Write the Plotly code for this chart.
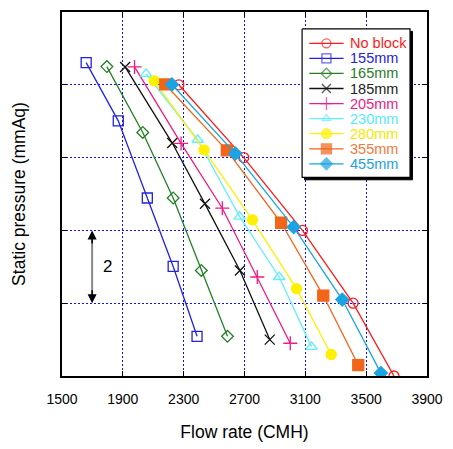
import plotly.graph_objects as go

# Fan curves: static pressure vs flow rate for different blocking distances
series_names = ["No block", "155mm", "165mm", "185mm", "205mm", "230mm", "280mm", "355mm", "455mm"]

flow_noblock = [2268, 2695, 3081, 3414, 3683]
press_noblock = [8.0, 6.0, 4.0, 2.0, 0.0]

flow_155 = [1659, 1870, 2061, 2231, 2388]
press_155 = [8.61, 7.01, 4.89, 3.01, 1.09]

flow_165 = [1795, 2031, 2231, 2416, 2588]
press_165 = [8.50, 6.69, 4.89, 2.90, 1.09]

flow_185 = [1915, 2225, 2440, 2670, 2866]
press_185 = [8.49, 6.40, 4.73, 2.90, 1.00]

flow_205 = [1977, 2283, 2554, 2784, 3001]
press_205 = [8.49, 6.39, 4.61, 2.72, 0.90]

flow_230 = [2053, 2392, 2668, 2928, 3141]
press_230 = [8.30, 6.49, 4.38, 2.72, 0.80]

flow_280 = [2106, 2434, 2752, 3042, 3270]
press_280 = [8.11, 6.21, 4.29, 2.40, 0.59]

flow_355 = [2179, 2584, 2941, 3218, 3448]
press_355 = [8.01, 6.20, 4.21, 2.21, 0.30]

flow_455 = [2223, 2640, 3023, 3343, 3597]
press_455 = [8.01, 6.11, 4.09, 2.10, 0.08]

x_ticks = [1500, 1900, 2300, 2700, 3100, 3500, 3900]

flows = [flow_noblock, flow_155, flow_165, flow_185, flow_205, flow_230, flow_280, flow_355, flow_455]
pressures = [press_noblock, press_155, press_165, press_185, press_205, press_230, press_280, press_355, press_455]

colors = ["#ff1a1a", "#2222e0", "#238023", "#111111", "#f01c82",
          "#62eeff", "#fff000", "#f26418", "#1ba3e3"]
text_colors = ["#ff1a1a", "#2222e0", "#2a7a2a", "#222222", "#f01c82",
               "#55eaff", "#f5ea00", "#f07a3a", "#1ba3e3"]
symbols = ["circle-open", "square-open", "diamond-open", "x-thin-open", "cross-thin-open",
           "triangle-up-open", "circle", "square", "diamond"]
sizes = [10, 10, 9, 10, 10, 10, 10, 11, 10]
legend_sizes = [9, 9, 8, 9, 9, 8, 10, 10, 9]

FONT = "Liberation Sans, Arial, sans-serif"

fig = go.Figure()

for name, fx, py, c, s, sz in zip(series_names, flows, pressures, colors, symbols, sizes):
    fig.add_trace(go.Scatter(
        x=fx, y=py, mode="lines+markers", name=name,
        line=dict(color=c, width=1.3),
        marker=dict(symbol=s, size=sz, color=c, line=dict(color=c, width=1.3)),
        showlegend=False,
    ))

# Legend box (with drop shadow) on an overlay axis measured in plot-area pixels,
# filled so that it hides the grid behind it
L_X0, L_X1, L_Y0, L_Y1 = 306.7, 416.7, 27.3, 179
SH = 2.5


def box(x0, x1, y0, y1):
    return [x0, x1, x1, x0, x0], [y0, y0, y1, y1, y0]


bx, by = box(L_X0 + SH, L_X1 + SH, L_Y0 + SH, L_Y1 + SH)
fig.add_trace(go.Scatter(x=bx, y=by, xaxis="x2", yaxis="y2", mode="lines", fill="toself",
                         fillcolor="black", line=dict(color="black", width=1),
                         showlegend=False, hoverinfo="skip"))
bx, by = box(L_X0, L_X1, L_Y0, L_Y1)
fig.add_trace(go.Scatter(x=bx, y=by, xaxis="x2", yaxis="y2", mode="lines", fill="toself",
                         fillcolor="white", line=dict(color="black", width=1.2),
                         showlegend=False, hoverinfo="skip"))

row0, row_gap = 42.0, 15.4
for i, (name, c, tc, s, sz) in enumerate(zip(series_names, colors, text_colors, symbols, legend_sizes)):
    yy = row0 + i * row_gap
    fig.add_trace(go.Scatter(
        x=[314, 331.5, 349], y=[yy, yy, yy], xaxis="x2", yaxis="y2",
        mode="lines+markers", showlegend=False, hoverinfo="skip",
        line=dict(color=c, width=1.3),
        marker=dict(symbol=s, size=[0, sz, 0], color=c, line=dict(color=c, width=1.3)),
    ))
    fig.add_annotation(x=354, y=yy, xref="x2", yref="y2", text=name, showarrow=False,
                       xanchor="left", yanchor="middle", borderpad=0,
                       font=dict(family=FONT, size=14.5, color=tc))

# Scale bar: one grid interval = 2 mmAq
fig.add_shape(type="line", xref="x", yref="y", x0=1698, x1=1698, y0=2.15, y1=3.85,
              line=dict(color="#888888", width=2))
for y_tip, y_tail in [(4.0, 3.6), (2.0, 2.4)]:
    fig.add_annotation(x=1698, y=y_tip, ax=1698, ay=y_tail, xref="x", yref="y",
                       axref="x", ayref="y", text="", showarrow=True,
                       arrowhead=2, arrowsize=1.2, arrowwidth=1.5, arrowcolor="black")
fig.add_annotation(x=1797, y=3.0, xref="x", yref="y", text="2", showarrow=False,
                   font=dict(family=FONT, size=17, color="black"))

fig.update_layout(
    width=453, height=449,
    margin=dict(l=62, r=19, t=10, b=67),
    paper_bgcolor="white", plot_bgcolor="white",
    font=dict(family=FONT, color="black"),
    xaxis=dict(
        range=[1500, 3900], tickvals=x_ticks, ticktext=[str(v) for v in x_ticks],
        showgrid=True, gridcolor="#1010ee", griddash="2px,2px", gridwidth=1,
        zeroline=False, showline=True, linecolor="black", linewidth=1.6,
        mirror="allticks", ticks="inside", ticklen=5, tickcolor="black",
        ticklabelstandoff=9,
        tickfont=dict(family=FONT, size=14, color="black"),
        title=dict(text="Flow rate (CMH)", font=dict(family=FONT, size=17.5, color="black"), standoff=20),
    ),
    yaxis=dict(
        range=[0, 10], dtick=2, tick0=0, showticklabels=False,
        showgrid=True, gridcolor="#1010ee", griddash="2px,2px", gridwidth=1,
        zeroline=False, showline=True, linecolor="black", linewidth=1.6,
        mirror="allticks", ticks="inside", ticklen=5, tickcolor="black",
        title=dict(text="Static pressure (mmAq)", font=dict(family=FONT, size=17.5, color="black"), standoff=30),
    ),
    xaxis2=dict(range=[62, 434], overlaying="x", visible=False, fixedrange=True),
    yaxis2=dict(range=[382, 10], overlaying="y", visible=False, fixedrange=True),
)

fig.write_html("out.html")
